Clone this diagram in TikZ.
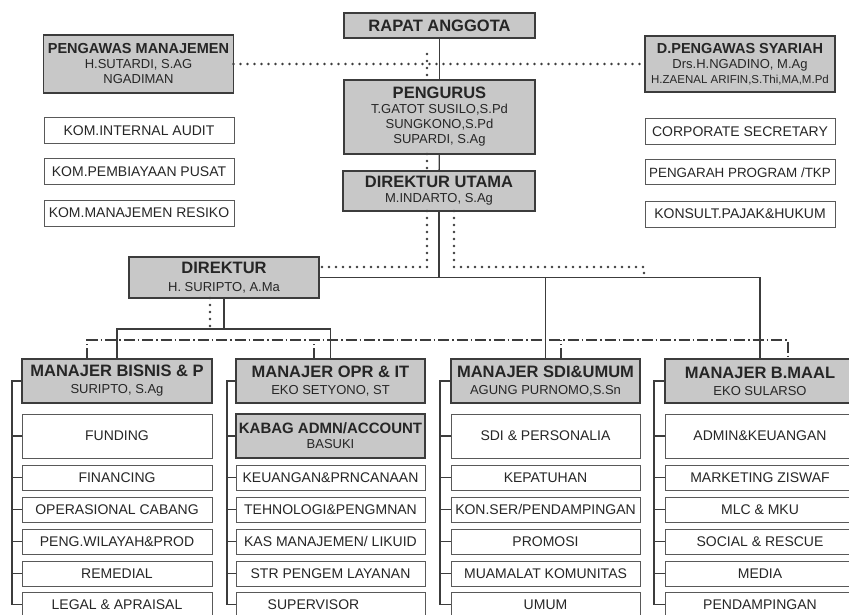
\documentclass[tikz,border=0pt]{standalone}
\usepackage{fontspec}
\setmainfont{Liberation Sans}
\usetikzlibrary{positioning}
\usetikzlibrary{calc}

\definecolor{boxgray}{RGB}{200,200,200}
\definecolor{linegray}{RGB}{60,60,60}

\newcommand{\bigtitle}[1]{{\fontsize{16.5}{18}\selectfont\bfseries #1}}
\newcommand{\midtitle}[1]{{\fontsize{14.5}{16}\selectfont\bfseries #1}}

\tikzset{
    headbox/.style={draw=linegray, line width=1.2pt, fill=boxgray, minimum width=190pt,
        inner sep=0pt, outer sep=0pt, align=center, text=black!85,
        font=\fontsize{13}{15}\selectfont},
    itembox/.style={draw=linegray!85, line width=1pt, fill=white, minimum width=190pt,
        minimum height=25pt, inner sep=0pt, outer sep=0pt, text=black!85,
        font=\fontsize{14}{16}\selectfont},
    link/.style={draw=linegray, line width=1.3pt},
    dotline/.style={draw=linegray, line width=2.6pt, line cap=round, dash pattern=on 0pt off 7pt},
    railline/.style={draw=linegray, line width=1.2pt, dash pattern=on 11pt off 3pt on 1.5pt off 3pt},
}

\begin{document}
\begin{tikzpicture}[x=1pt, y=-1pt]
        \useasboundingbox (0,0) rectangle (849,615);
        \fill[white] (0,0) rectangle (849,615);
        \clip (0,0) rectangle (849,615);

        % top
        \node[headbox, minimum width=191pt, minimum height=25pt] (rapat) at (439.5,25.5) {\bigtitle{RAPAT ANGGOTA}};
        \node[headbox, minimum width=191pt, minimum height=74pt] (pengurus) at (439.5,117)
            {\bigtitle{PENGURUS}\\T.GATOT SUSILO,S.Pd\\SUNGKONO,S.Pd\\SUPARDI, S.Ag};
        \node[headbox, minimum width=192pt, minimum height=40pt] (dirut) at (439,191)
            {\bigtitle{DIREKTUR UTAMA}\\M.INDARTO, S.Ag};

        \node[headbox, minimum height=58pt] (pengawas) at (138.5,64)
            {\midtitle{PENGAWAS MANAJEMEN}\\H.SUTARDI, S.AG\\NGADIMAN};
        \node[itembox, minimum height=26pt] (kia) at (139,131) {KOM.INTERNAL AUDIT};
        \node[itembox, minimum height=26pt] (kpp) at (139,172) {KOM.PEMBIAYAAN PUSAT};
        \node[itembox, minimum height=26pt] (kmr) at (139,213) {KOM.MANAJEMEN RESIKO};

        \node[headbox, minimum height=56pt] (dps) at (740,64)
            {\midtitle{D.PENGAWAS SYARIAH}\\Drs.H.NGADINO, M.Ag\\{\fontsize{11.5}{13}\selectfont H.ZAENAL ARIFIN,S.Thi,MA,M.Pd}};
        \node[itembox, minimum height=26pt] (corsec) at (740,132) {CORPORATE SECRETARY};
        \node[itembox, font=\fontsize{13.4}{16}\selectfont] (pengarah) at (740,172.5) {PENGARAH PROGRAM /TKP};
        \node[itembox, minimum height=26pt] (konsult) at (740,214) {KONSULT.PAJAK\&HUKUM};

        \node[headbox, minimum height=41pt] (direktur) at (224,277.5)
            {\bigtitle{DIREKTUR}\\[3pt]H. SURIPTO, A.Ma};

        % managers
        \node[headbox, minimum height=44pt] (bisnis) at (117,381)
            {\bigtitle{MANAJER BISNIS \& P}\\[2pt]SURIPTO, S.Ag};
        \node[headbox, minimum width=189pt, minimum height=44pt] (opr) at (330.5,381)
            {\bigtitle{MANAJER OPR \& IT}\\[2pt]EKO SETYONO, ST};
        \node[headbox, minimum width=189pt, minimum height=44pt] (sdi) at (545.5,381)
            {\bigtitle{MANAJER SDI\&UMUM}\\[2pt]AGUNG PURNOMO,S.Sn};
        \node[headbox, minimum height=44pt] (maal) at (760,381)
            {\bigtitle{MANAJER B.MAAL}\\[2pt]EKO SULARSO};

        % bisnis column
        \node[itembox, minimum height=44pt] (b1) at (117,436) {FUNDING};
        \node[itembox] (b2) at (117,477.5) {FINANCING};
        \node[itembox] (b3) at (117,509.5) {OPERASIONAL CABANG};
        \node[itembox] (b4) at (117,541.5) {PENG.WILAYAH\&PROD};
        \node[itembox] (b5) at (117,573.5) {REMEDIAL};
        \node[itembox] (b6) at (117,604.5) {LEGAL \& APRAISAL};

        % opr column
        \node[headbox, minimum width=189pt, minimum height=44pt] (kabag) at (330.5,436)
            {{\fontsize{15}{16}\selectfont\bfseries KABAG ADMN/ACCOUNT}\\BASUKI};
        \node[itembox, minimum width=189pt] (o1) at (330.5,477.5) {KEUANGAN\&PRNCANAAN};
        \node[itembox, minimum width=189pt] (o2) at (330.5,509.5) {TEHNOLOGI\&PENGMNAN};
        \node[itembox, minimum width=189pt] (o3) at (330.5,541.5) {KAS MANAJEMEN/ LIKUID};
        \node[itembox, minimum width=189pt] (o4) at (330.5,573.5) {STR PENGEM LAYANAN};
        \node[itembox, minimum width=189pt] (o5) at (330.5,604.5) {SUPERVISOR\hspace*{34pt}};

        % sdi column
        \node[itembox, minimum width=189pt, minimum height=44pt] (s1) at (545.5,436) {SDI \& PERSONALIA};
        \node[itembox, minimum width=189pt] (s2) at (545.5,477.5) {KEPATUHAN};
        \node[itembox, minimum width=189pt] (s3) at (545.5,509.5) {KON.SER/PENDAMPINGAN};
        \node[itembox, minimum width=189pt] (s4) at (545.5,541.5) {PROMOSI};
        \node[itembox, minimum width=189pt] (s5) at (545.5,573.5) {MUAMALAT KOMUNITAS};
        \node[itembox, minimum width=189pt] (s6) at (545.5,604.5) {UMUM};

        % maal column
        \node[itembox, minimum height=44pt] (m1) at (760,436) {ADMIN\&KEUANGAN};
        \node[itembox] (m2) at (760,477.5) {MARKETING ZISWAF};
        \node[itembox] (m3) at (760,509.5) {MLC \& MKU};
        \node[itembox] (m4) at (760,541.5) {SOCIAL \& RESCUE};
        \node[itembox] (m5) at (760,573.5) {MEDIA};
        \node[itembox] (m6) at (760,604.5) {PENDAMPINGAN};

        % solid lines
        \draw[link] (rapat) -- (pengurus);
        \draw[link] (pengurus) -- (dirut);
        \draw[link] (dirut.south) -- (dirut.south |- direktur.east);
        \draw[link] (direktur.east) -| (maal.north);
        \draw[link] (sdi.north) -- (sdi.north |- direktur.east);
        \draw[link] (direktur.south) -- ++(0,31) coordinate (split);
        \draw[link] (bisnis.north) |- (split) -| (opr.north);

        % dotted lines
        \coordinate (dtop) at (427,54);
        \coordinate (dend) at (644,280);
        \draw[dotline] (pengawas.east) -- (dps.west);
        \draw[dotline] (dtop) -- (dtop |- pengurus.north);
        \draw[dotline] (dtop |- pengurus.south) -- (dtop |- dirut.north);
        \draw[dotline] (dtop |- dirut.south) |- ([yshift=10.5pt]direktur.east);
        \draw[dotline] ([xshift=15pt]dirut.south) |- (dend |- 0,267) -- (dend);
        \draw[dotline] ([xshift=-14pt]direktur.south) -- ++(0,31);

        % dash-dot rail
        \coordinate (rail) at (0,340);
        \draw[railline] ([xshift=-30pt]bisnis.north) |- ([xshift=28pt]maal.north |- rail) -- ([xshift=28pt]maal.north);
        \draw[railline] ([xshift=-16.5pt]opr.north) -- ([xshift=-16.5pt]opr.north |- rail);
        \draw[railline] ([xshift=15.5pt]sdi.north) -- ([xshift=15.5pt]sdi.north |- rail);

        % column ticks
        \draw[link] (bisnis.west) -- ++(-10,0) |- (b6.west);
        \draw[link] (b1.west) -- ++(-10,0) (b2.west) -- ++(-10,0) (b3.west) -- ++(-10,0)
            (b4.west) -- ++(-10,0) (b5.west) -- ++(-10,0);
        \draw[link] (opr.west) -- ++(-9,0) |- (o5.west);
        \draw[link] (kabag.west) -- ++(-9,0) (o1.west) -- ++(-9,0) (o2.west) -- ++(-9,0)
            (o3.west) -- ++(-9,0) (o4.west) -- ++(-9,0);
        \draw[link] (sdi.west) -- ++(-11,0) |- (s6.west);
        \draw[link] (s1.west) -- ++(-11,0) (s2.west) -- ++(-11,0) (s3.west) -- ++(-11,0)
            (s4.west) -- ++(-11,0) (s5.west) -- ++(-11,0);
        \draw[link] (maal.west) -- ++(-11,0) |- (m6.west);
        \draw[link] (m1.west) -- ++(-11,0) (m2.west) -- ++(-11,0) (m3.west) -- ++(-11,0)
            (m4.west) -- ++(-11,0) (m5.west) -- ++(-11,0);

\end{tikzpicture}
\end{document}
